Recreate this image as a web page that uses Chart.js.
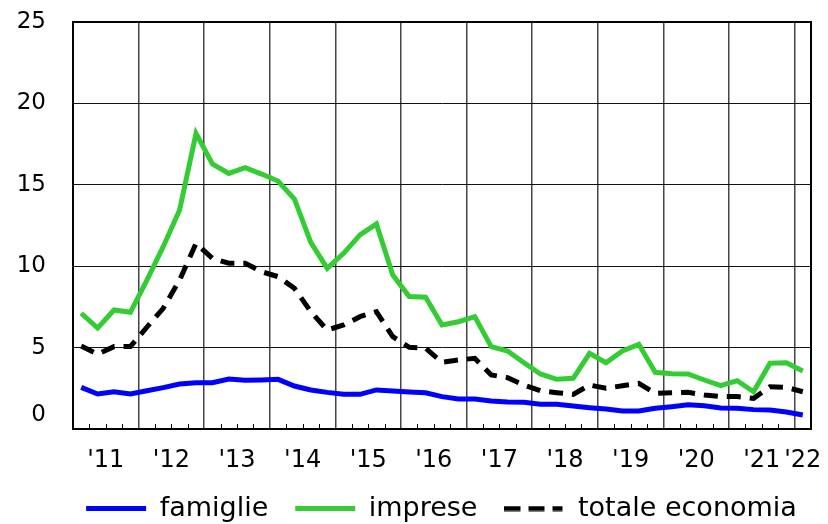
<!DOCTYPE html>
<html>
<head>
<meta charset="utf-8">
<script src="https://cdn.jsdelivr.net/npm/chart.js@4.4.0/dist/chart.umd.min.js"></script>
<style>
  html, body { margin: 0; padding: 0; background: #fff; }
</style>
</head>
<body>
<canvas id="chart" width="828" height="524"></canvas>
<script>
// year labels, one per year, last one only has Q1
const years = ["'11", "'12", "'13", "'14", "'15", "'16", "'17", "'18", "'19", "'20", "'21", "'22"]

// quarterly values 2011Q1 - 2022Q1
const famiglie = [2.56, 2.15, 2.29, 2.15, 2.35, 2.54, 2.76, 2.84, 2.84, 3.07, 2.99, 3.01,
  3.05, 2.64, 2.40, 2.25, 2.13, 2.13, 2.40, 2.33, 2.27, 2.23, 1.99, 1.84,
  1.84, 1.72, 1.66, 1.64, 1.52, 1.52, 1.41, 1.31, 1.23, 1.11, 1.11, 1.27,
  1.37, 1.49, 1.43, 1.29, 1.27, 1.19, 1.17, 1.04, 0.86]
const imprese = [7.11, 6.20, 7.31, 7.17, 9.13, 11.2, 13.45, 18.16, 16.28, 15.70, 16.05, 15.66,
  15.23, 14.13, 11.47, 9.87, 10.79, 11.92, 12.59, 9.46, 8.14, 8.09, 6.39, 6.59,
  6.90, 5.06, 4.79, 4.07, 3.38, 3.05, 3.11, 4.65, 4.07, 4.79, 5.20, 3.48,
  3.40, 3.38, 3.01, 2.66, 2.97, 2.29, 4.04, 4.07, 3.56]
const totale = [5.10, 4.59, 5.06, 5.06, 6.25, 7.41, 9.15, 11.40, 10.48, 10.18, 10.18, 9.66,
  9.36, 8.64, 7.21, 6.08, 6.39, 6.90, 7.21, 5.67, 5.02, 4.96, 4.10, 4.24,
  4.34, 3.32, 3.15, 2.70, 2.35, 2.23, 2.13, 2.70, 2.50, 2.66, 2.80, 2.19,
  2.23, 2.25, 2.09, 1.99, 1.99, 1.88, 2.60, 2.56, 2.29]

const nQuarters = famiglie.length

// each quarter sits in the middle of its slot
const toPoints = (arr) => arr.map((v, i) => ({ x: i + 0.5, y: v }))

const font = 'DejaVu Sans'

// legend marker for the dashed series (point style 'line' ignores dashes)
const dashMarker = document.createElement('canvas')
dashMarker.width = 60
dashMarker.height = 6
const dctx = dashMarker.getContext('2d')
dctx.strokeStyle = '#000'
dctx.lineWidth = 5
dctx.setLineDash([16, 8])
dctx.beginPath()
dctx.moveTo(0, 3)
dctx.lineTo(58, 3)
dctx.stroke()

// minor quarter ticks inside the plot + right frame line
const framePlugin = {
  id: 'frame',
  beforeDatasetsDraw(chart) {
    const ctx = chart.ctx
    const xs = chart.scales.x
    const area = chart.chartArea
    ctx.save()
    ctx.strokeStyle = '#000'
    ctx.lineWidth = 1
    for (let q = 1; q < nQuarters; q++) {
      if (q % 4 === 0) continue
      const px = Math.round(xs.getPixelForValue(q)) + 0.5
      ctx.beginPath()
      ctx.moveTo(px, area.bottom)
      ctx.lineTo(px, area.bottom - 5)
      ctx.stroke()
    }
    ctx.restore()
  },
  afterDraw(chart) {
    const ctx = chart.ctx
    const area = chart.chartArea
    ctx.save()
    ctx.strokeStyle = '#000'
    ctx.lineWidth = 2
    ctx.strokeRect(area.left, area.top, area.right - area.left, area.bottom - area.top)
    ctx.restore()
  }
}

const ctx = document.querySelector('#chart').getContext('2d')

const chart = new Chart(ctx, {
  type: 'line',
  data: {
    datasets: [
      {
        label: 'famiglie',
        data: toPoints(famiglie),
        borderColor: '#0000ff',
        backgroundColor: '#0000ff',
        borderWidth: 5,
        pointRadius: 0,
        pointStyle: 'line',
        tension: 0
      },
      {
        label: 'imprese',
        data: toPoints(imprese),
        borderColor: '#33cc33',
        backgroundColor: '#33cc33',
        borderWidth: 5,
        pointRadius: 0,
        pointStyle: 'line',
        tension: 0
      },
      {
        label: 'totale economia',
        data: toPoints(totale),
        borderColor: '#000',
        backgroundColor: '#000',
        borderWidth: 5,
        borderDash: [14, 9],
        pointRadius: 0,
        pointStyle: dashMarker,
        tension: 0
      }
    ]
  },
  options: {
    responsive: false,
    animation: false,
    // legend box runs past the right edge so its row is centred on the reference position
    layout: { padding: { top: 22, right: -55, left: 0, bottom: -8 } },
    plugins: {
      legend: {
        position: 'bottom',
        align: 'center',
        labels: {
          usePointStyle: true,
          pointStyleWidth: 60,
          color: '#000',
          padding: 27,
          font: { family: font, size: 27 }
        }
      },
      tooltip: { enabled: false }
    },
    scales: {
      x: {
        type: 'linear',
        min: 0,
        max: nQuarters,
        afterBuildTicks: (scale) => {
          const t = []
          for (let q = 0; q <= nQuarters; q++) t.push({ value: q })
          t.push({ value: nQuarters - 0.5 })
          t.sort((a, b) => a.value - b.value)
          scale.ticks = t
        },
        afterFit: (scale) => { scale.height = 39 },
        ticks: {
          autoSkip: false,
          maxRotation: 0,
          padding: 17,
          color: '#000',
          font: { family: font, size: 24 },
          callback: (value) => {
            if (value === nQuarters - 0.5) return years[years.length - 1]
            if (value % 4 === 2 && value < nQuarters - 1) return years[(value - 2) / 4]
            return ''
          }
        },
        grid: {
          drawTicks: false,
          lineWidth: 1.5,
          color: (c) => (c.tick && c.tick.value % 4 === 0 && c.tick.value > 0) ? '#444' : 'rgba(0,0,0,0)'
        },
        border: { display: true, color: '#000', width: 2 }
      },
      y: {
        min: 0,
        max: 25,
        afterFit: (scale) => {
          scale.width = 73
          scale.paddingTop = 0
          scale.paddingBottom = 0
        },
        ticks: {
          stepSize: 5,
          padding: 27,
          color: '#000',
          font: { family: font, size: 23 },
          // the zero label sits a little above its gridline in the reference
          callback: (value) => value === 0 ? ['0', ''] : String(value)
        },
        grid: { drawTicks: false, color: '#111', lineWidth: 1 },
        border: { display: true, color: '#000', width: 2 }
      },
      // empty spacer on the right, keeps plot edge at 812
      y2: {
        position: 'right',
        min: 0,
        max: 25,
        afterFit: (scale) => { scale.width = 71 },
        ticks: { display: false },
        grid: { display: false },
        border: { display: false }
      }
    }
  },
  plugins: [framePlugin]
})
</script>
</body>
</html>
